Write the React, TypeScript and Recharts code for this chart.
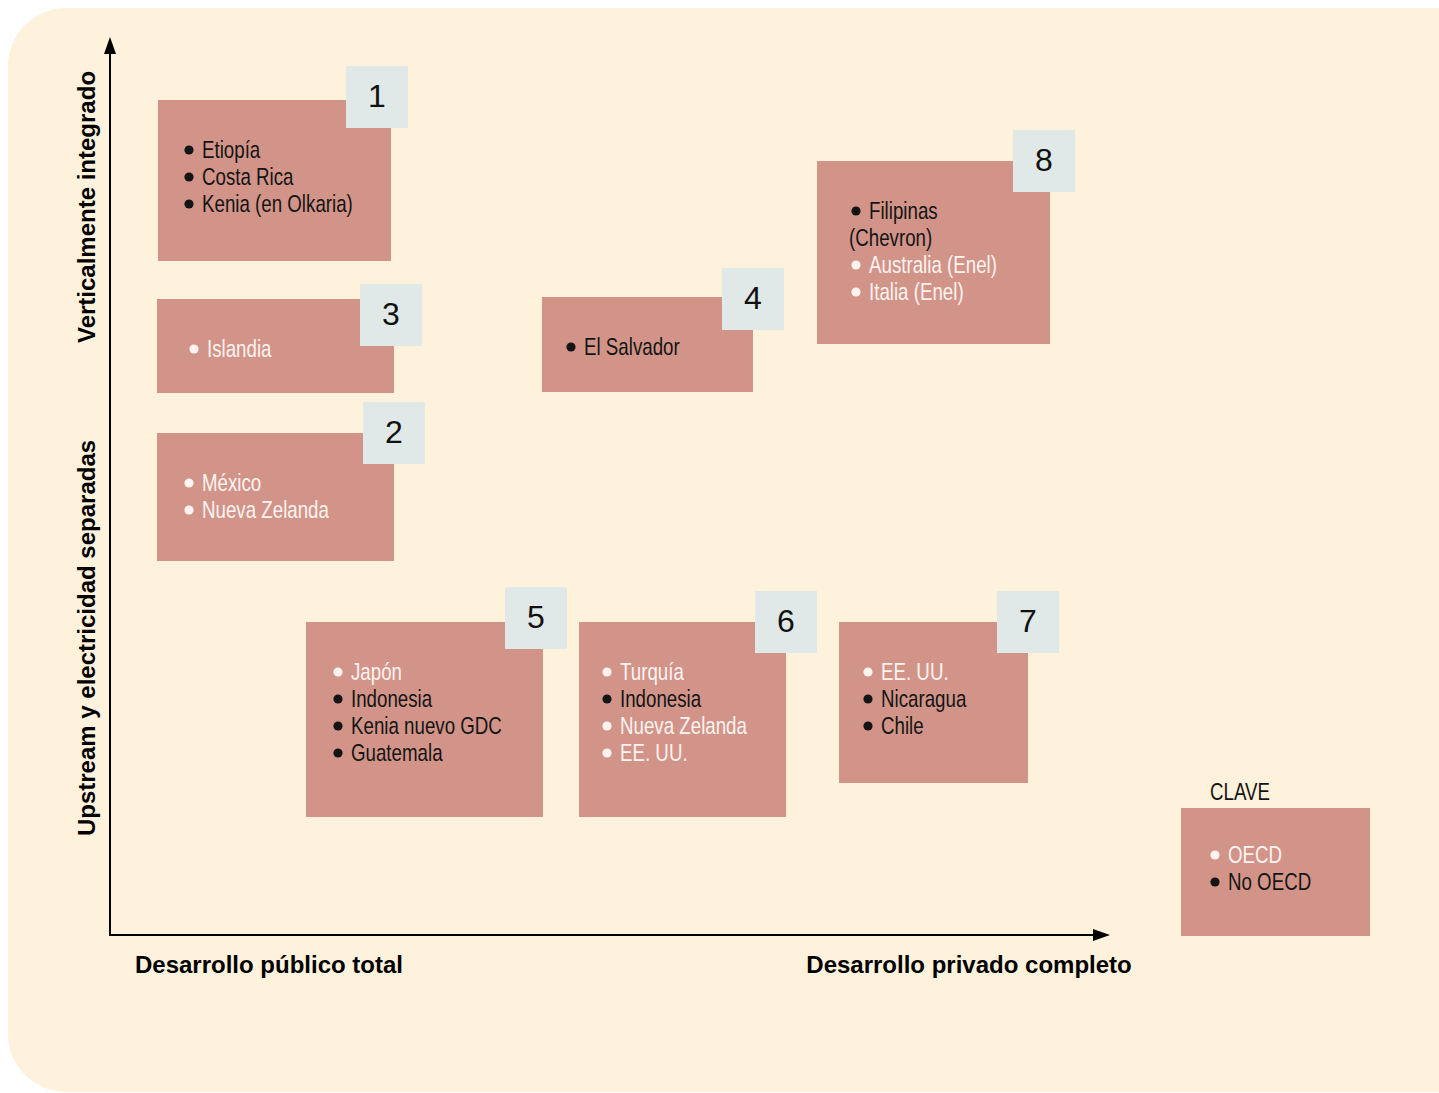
import React from 'react';
import {
  ScatterChart,
  Scatter,
  XAxis,
  YAxis,
  ReferenceArea,
  ReferenceLine,
  ReferenceDot,
} from 'recharts';

// ---- Diagram data (coordinates in diagram units, 0..1439 x 0..1093) ----
const boxNumbers = ['1', '3', '2', '4', '8', '5', '6', '7'];
const boxLeft = [158, 157, 157, 542, 817, 306, 579, 839];
const boxRight = [391, 394, 394, 753, 1050, 543, 786, 1028];
const boxTop = [100, 299, 433, 297, 161, 622, 622, 622];
const boxBottom = [261, 393, 561, 392, 344, 817, 817, 783];
const numLeft = [346, 360, 363, 722, 1013, 505, 755, 997];
const numTop = [66, 284, 402, 268, 130, 587, 591, 591];
const boxItems: string[][] = [
  ['Etiopía', 'Costa Rica', 'Kenia (en Olkaria)'],
  ['Islandia'],
  ['México', 'Nueva Zelanda'],
  ['El Salvador'],
  ['Filipinas', '(Chevron)', 'Australia (Enel)', 'Italia (Enel)'],
  ['Japón', 'Indonesia', 'Kenia nuevo GDC', 'Guatemala'],
  ['Turquía', 'Indonesia', 'Nueva Zelanda', 'EE. UU.'],
  ['EE. UU.', 'Nicaragua', 'Chile'],
];
// o = OECD (white), n = no OECD (black), c = continuation line (black, no bullet)
const boxKinds: string[][] = [
  ['n', 'n', 'n'],
  ['o'],
  ['o', 'o'],
  ['n'],
  ['n', 'c', 'o', 'o'],
  ['o', 'n', 'n', 'n'],
  ['o', 'n', 'o', 'o'],
  ['o', 'n', 'n'],
];
const bulletInset = [31, 37, 32, 29, 39, 32, 28, 29];

const keyTitle = 'CLAVE';
const keyItems = ['OECD', 'No OECD'];
const keyKinds = ['o', 'n'];
const keyBox = { x1: 1181, x2: 1370, y1: 808, y2: 936 };

const axisLabels = [
  { text: 'Desarrollo público total', x: 269, y: 973, rotate: false },
  { text: 'Desarrollo privado completo', x: 969, y: 973, rotate: false },
  { text: 'Verticalmente integrado', x: 95, y: 207, rotate: true },
  { text: 'Upstream y electricidad separadas', x: 95, y: 638, rotate: true },
];

const axisOrigin = { x: 110, y: 935 };
const axisTipTop = { x: 110, y: 37 };
const axisTipRight = { x: 1110, y: 935 };

// ---- Styles ----
const W = 1439;
const H = 1093;
const BG = '#fef2dc';
const BOX = '#d29488';
const NUMBOX = '#e0e8e8';
const WHITE_TXT = '#fdf3f0';
const BLACK_TXT = '#141414';
const NARROW = "'Liberation Sans', Arial, Helvetica, sans-serif";
const SANS = "'Liberation Sans', Arial, Helvetica, sans-serif";
const NARROW_SIZE = 24;
const NARROW_SCALE = 0.78;
const LINE = 27;
const FIRST_BASE = 58;

function NarrowText({ x, y, fill, children }: { x: number; y: number; fill: string; children: React.ReactNode }) {
  return (
    <text
      x={0}
      y={0}
      transform={`translate(${x} ${y}) scale(${NARROW_SCALE} 1)`}
      fill={fill}
      fontFamily={NARROW}
      fontSize={NARROW_SIZE}
    >
      {children}
    </text>
  );
}

function renderLines(
  items: string[],
  kinds: string[],
  x: number,
  y: number,
  inset: number,
  firstBase: number
) {
  return items.map((t, j) => {
    const base = y + firstBase + j * LINE;
    const k = kinds[j];
    const col = k === 'o' ? WHITE_TXT : BLACK_TXT;
    const bx = x + inset;
    if (k === 'c') {
      return (
        <NarrowText key={j} x={x + 32} y={base} fill={col}>
          {t}
        </NarrowText>
      );
    }
    return (
      <g key={j}>
        <circle cx={bx} cy={base - 8} r={4.6} fill={col} />
        <NarrowText x={bx + 13} y={base} fill={col}>
          {t}
        </NarrowText>
      </g>
    );
  });
}

export default function App() {
  return (
    <div style={{ position: 'absolute', left: 0, top: 0, width: W, height: H, background: '#ffffff' }}>
      <ScatterChart width={W} height={H} margin={{ top: 0, right: 0, bottom: 0, left: 0 }}>
        <XAxis type="number" dataKey="x" domain={[0, W]} hide allowDataOverflow />
        <YAxis type="number" dataKey="y" domain={[0, H]} hide reversed allowDataOverflow />

        {/* background panel */}
        <ReferenceArea
          x1={8}
          x2={W}
          y1={8}
          y2={1092}
          ifOverflow="visible"
          shape={(p: any) => {
            const r = 58;
            const { x, y, width, height } = p;
            const d = `M ${x + r} ${y} H ${x + width} V ${y + height} H ${x + r} A ${r} ${r} 0 0 1 ${x} ${y + height - r} V ${y + r} A ${r} ${r} 0 0 1 ${x + r} ${y} Z`;
            return <path d={d} fill={BG} />;
          }}
        />

        {/* axes */}
        <ReferenceLine
          segment={[
            { x: axisOrigin.x, y: axisOrigin.y },
            { x: axisTipTop.x, y: axisTipTop.y + 14 },
          ]}
          stroke="#000"
          strokeWidth={2}
          ifOverflow="visible"
        />
        <ReferenceLine
          segment={[
            { x: axisOrigin.x - 1, y: axisOrigin.y },
            { x: axisTipRight.x - 14, y: axisTipRight.y },
          ]}
          stroke="#000"
          strokeWidth={2}
          ifOverflow="visible"
        />
        <ReferenceDot
          x={axisTipTop.x}
          y={axisTipTop.y}
          ifOverflow="visible"
          shape={(p: any) => (
            <polygon
              points={`${p.cx},${p.cy} ${p.cx - 6},${p.cy + 17} ${p.cx + 6},${p.cy + 17}`}
              fill="#000"
            />
          )}
        />
        <ReferenceDot
          x={axisTipRight.x}
          y={axisTipRight.y}
          ifOverflow="visible"
          shape={(p: any) => (
            <polygon
              points={`${p.cx},${p.cy} ${p.cx - 17},${p.cy - 6} ${p.cx - 17},${p.cy + 6}`}
              fill="#000"
            />
          )}
        />

        {/* axis labels */}
        {axisLabels.map((l, i) => (
          <ReferenceDot
            key={`lab${i}`}
            x={l.x}
            y={l.y}
            ifOverflow="visible"
            shape={(p: any) => (
              <text
                x={p.cx}
                y={p.cy}
                textAnchor="middle"
                fontFamily={SANS}
                fontWeight="bold"
                fontSize={24}
                fill="#000"
                transform={l.rotate ? `rotate(-90 ${p.cx} ${p.cy})` : undefined}
              >
                {l.text}
              </text>
            )}
          />
        ))}

        {/* boxes */}
        {boxNumbers.map((num, i) => (
          <ReferenceArea
            key={`box${i}`}
            x1={boxLeft[i]}
            x2={boxRight[i]}
            y1={boxTop[i]}
            y2={boxBottom[i]}
            ifOverflow="visible"
            shape={(p: any) => (
              <g>
                <rect x={p.x} y={p.y} width={p.width} height={p.height} fill={BOX} />
                {renderLines(boxItems[i], boxKinds[i], p.x, p.y, bulletInset[i], FIRST_BASE)}
              </g>
            )}
          />
        ))}

        {/* number tags */}
        {boxNumbers.map((num, i) => (
          <ReferenceArea
            key={`num${i}`}
            x1={numLeft[i]}
            x2={numLeft[i] + 62}
            y1={numTop[i]}
            y2={numTop[i] + 62}
            ifOverflow="visible"
            shape={(p: any) => (
              <g>
                <rect x={p.x} y={p.y} width={p.width} height={p.height} fill={NUMBOX} />
                <text
                  x={p.x + p.width / 2}
                  y={p.y + p.height / 2 + 10}
                  textAnchor="middle"
                  fontFamily={SANS}
                  fontSize={32}
                  fill="#111"
                >
                  {num}
                </text>
              </g>
            )}
          />
        ))}

        {/* key */}
        <ReferenceArea
          x1={keyBox.x1}
          x2={keyBox.x2}
          y1={keyBox.y1}
          y2={keyBox.y2}
          ifOverflow="visible"
          shape={(p: any) => (
            <g>
              <NarrowText x={p.x + 29} y={p.y - 8} fill={BLACK_TXT}>
                {keyTitle}
              </NarrowText>
              <rect x={p.x} y={p.y} width={p.width} height={p.height} fill={BOX} />
              {renderLines(keyItems, keyKinds, p.x, p.y, 34, 55)}
            </g>
          )}
        />

        <Scatter data={[{ x: axisOrigin.x, y: axisOrigin.y }]} fill="none" isAnimationActive={false} shape={() => <g />} />
      </ScatterChart>
    </div>
  );
}
